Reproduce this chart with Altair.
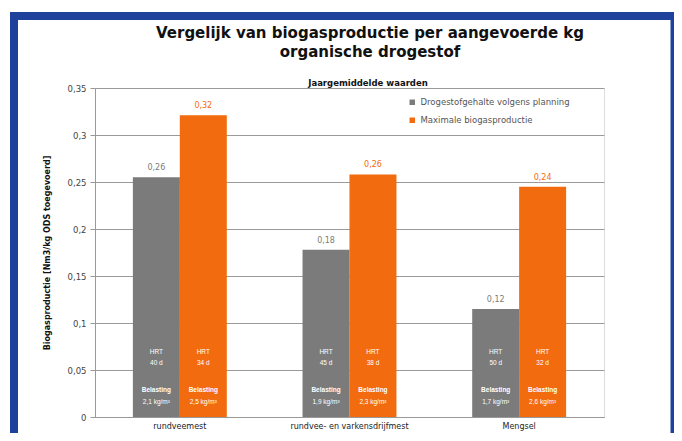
import altair as alt
import pandas as pd

categories = ["rundveemest", "rundvee- en varkensdrijfmest", "Mengsel"]
series = ["Drogestofgehalte volgens planning", "Maximale biogasproductie"]
planning = [0.255, 0.178, 0.115]
maximaal = [0.321, 0.258, 0.245]
line1 = [["HRT", "HRT"], ["HRT", "HRT"], ["HRT", "HRT"]]
line2 = [["40 d", "34 d"], ["45 d", "38 d"], ["50 d", "32 d"]]
line3 = [["Belasting", "Belasting"], ["Belasting", "Belasting"], ["Belasting", "Belasting"]]
line4 = [["2,1 kg/m³", "2,5 kg/m³"], ["1,9 kg/m³", "2,3 kg/m³"], ["1,7 kg/m³", "2,6 kg/m³"]]
y_ticks = [0, 0.05, 0.1, 0.15, 0.2, 0.25, 0.3, 0.35]
title_lines = ["Vergelijk van biogasproductie per aangevoerde kg", "organische drogestof"]
legend_title = "Jaargemiddelde waarden"

GRAY = "#7b7b7b"
ORANGE = "#f26b0f"
BLUE = "#1e429c"
FONT = "DejaVu Sans"

rows = []
for i, c in enumerate(categories):
    for j, (s, v) in enumerate(zip(series, [planning[i], maximaal[i]])):
        rows.append({"cat": c, "serie": s, "val": v,
                     "l1": line1[i][j], "l2": line2[i][j],
                     "l3": line3[i][j], "l4": line4[i][j]})
df = pd.DataFrame(rows)

W, H = 509, 329
color = alt.Color("serie:N", scale=alt.Scale(domain=series, range=[GRAY, ORANGE]),
                  legend=alt.Legend(title=None, orient="none", legendX=313, legendY=10,
                                    symbolType="square", symbolSize=30, symbolStrokeWidth=0,
                                    labelFontSize=8.5, labelColor="#555", labelFont=FONT,
                                    rowPadding=9, labelLimit=300, labelOffset=4))
x = alt.X("cat:N", sort=categories, scale=alt.Scale(paddingInner=0.447, paddingOuter=0.2235),
          axis=alt.Axis(title=None, labelAngle=0, labelFontSize=8, labelColor="#222",
                        labelFont=FONT, ticks=False, domainColor="#999",
                        labelPadding=5))
xo = alt.XOffset("serie:N", sort=series, scale=alt.Scale(paddingInner=0, paddingOuter=0))
y = alt.Y("val:Q", scale=alt.Scale(domain=[0, 0.35], nice=False),
          axis=alt.Axis(values=y_ticks, title="Biogasproductie [Nm3/kg ODS toegevoerd]",
                        titleFontSize=8, titleFont=FONT, titleFontWeight="bold",
                        titleColor="#111", titlePadding=16,
                        labelExpr="replace(format(datum.value, '.2~f'), '.', ',')",
                        labelFontSize=8.5, labelColor="#444", labelFont=FONT,
                        gridColor="#9a9a9a", gridWidth=1, domainColor="#999",
                        tickColor="#999", tickSize=5, labelPadding=4))

base = alt.Chart(df)
bars = base.mark_bar(size=47).encode(x=x, xOffset=xo, y=y, color=color)

labels = base.mark_text(dy=-9, fontSize=8, font=FONT).encode(
    x=x, xOffset=xo, y="val:Q",
    text=alt.Text("lbl:N"),
    color=alt.Color("serie:N", scale=alt.Scale(domain=series, range=[GRAY, ORANGE]), legend=None),
).transform_calculate(lbl="replace(format(datum.val, '.2f'), '.', ',')")

inner = []
for field, ypix, bold in [("l1", 264, False), ("l2", 275, False), ("l3", 302, True), ("l4", 314, False)]:
    inner.append(base.mark_text(fontSize=6.5, color="white", font="Liberation Sans",
                                fontWeight="bold" if bold else "normal").encode(
        x=x, xOffset=xo, y=alt.value(ypix), text=f"{field}:N"))

frame_df = pd.DataFrame({"k": [0]})
frame = alt.Chart(frame_df).mark_rect(fill=None, stroke=BLUE, strokeWidth=8, clip=False).encode(
    x=alt.value(-81), x2=alt.value(579.5), y=alt.value(-72), y2=alt.value(380))

leg_title = alt.Chart(frame_df).mark_text(fontSize=8.5, fontWeight="bold", font=FONT,
                                          color="#111").encode(
    x=alt.value(273), y=alt.value(-5), text=alt.value(legend_title))

title1 = alt.Chart(frame_df).mark_text(fontSize=15, fontWeight="bold", font=FONT,
                                       color="#111").encode(
    x=alt.value(275), y=alt.value(-55), text=alt.value(title_lines[0]))
title2 = alt.Chart(frame_df).mark_text(fontSize=15, fontWeight="bold", font=FONT,
                                       color="#111").encode(
    x=alt.value(275), y=alt.value(-36), text=alt.value(title_lines[1]))

chart = alt.layer(frame, bars, labels, *inner, leg_title, title1, title2).properties(
    width=W, height=H,
    autosize=alt.AutoSizeParams(type="none"),
    padding={"left": 87, "top": 80, "right": 70, "bottom": 16},
).configure_view(stroke=None).configure(background="white")

chart.save("out.html", embed_options={"renderer": "svg", "actions": False})
